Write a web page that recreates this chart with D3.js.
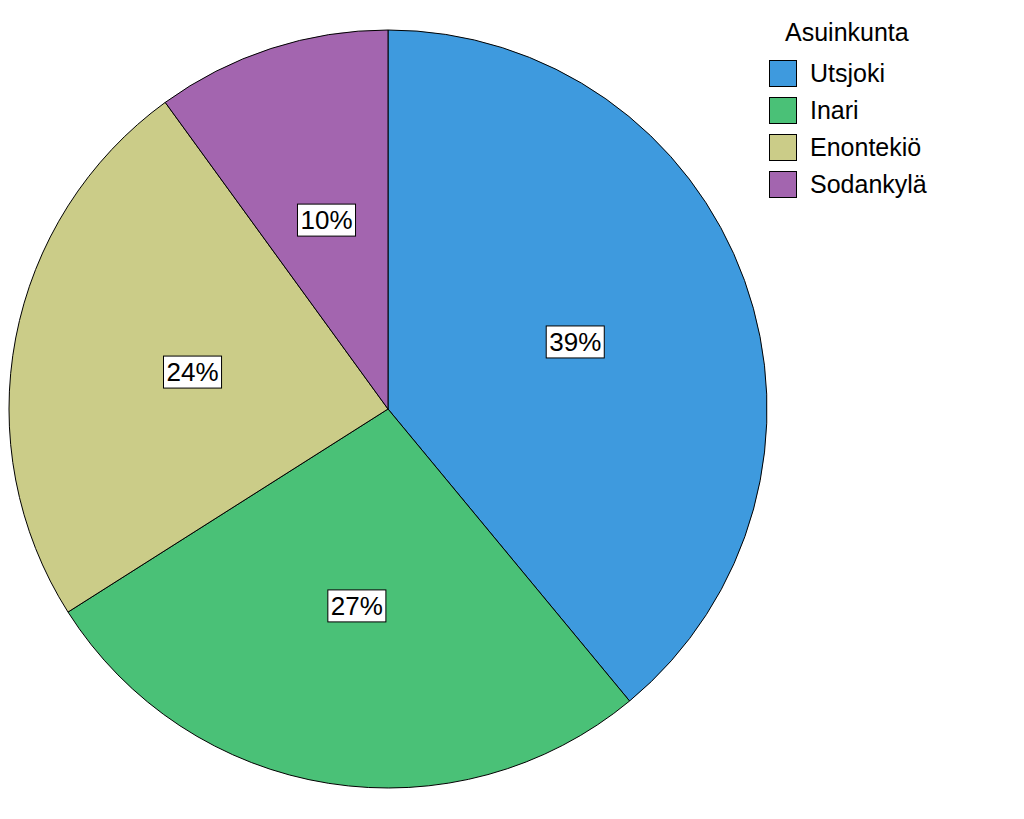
<!DOCTYPE html>
<html><head><meta charset="utf-8">
<script src="https://cdn.jsdelivr.net/npm/d3@7"></script>
<style>body{margin:0;background:#fff}</style></head>
<body><svg id="c" width="1024" height="819"></svg>
<script>
const categories = ["Utsjoki","Inari","Enontekiö","Sodankylä"];
const values = [39,27,24,10];
const colors = ["#3e9ade","#4ac177","#cbcc88","#a365af"];
const legendTitle = "Asuinkunta";

const svg = d3.select("#c");
const cx = 388, cy = 409, R = 379;
const pie = d3.pie().sort(null).value(d => d)(values);
const arc = d3.arc().innerRadius(0).outerRadius(R);
const lab = d3.arc().innerRadius(199).outerRadius(199);
const g = svg.append("g").attr("transform", `translate(${cx},${cy})`);
g.selectAll("path").data(pie).join("path")
  .attr("d", arc).attr("fill", (d,i) => colors[i])
  .attr("stroke", "#000").attr("stroke-width", 1);
const lg = g.selectAll("g.l").data(pie).join("g")
  .attr("transform", d => `translate(${lab.centroid(d)})`);
lg.append("text").text(d => d.data + "%")
  .attr("text-anchor","middle").attr("dy","0.36em")
  .style("font-family","Liberation Sans, Arial").style("font-size","26px")
  .each(function(){
    const b = this.getBBox();
    d3.select(this.parentNode).insert("rect","text")
      .attr("x", b.x-3).attr("y", b.y-1).attr("width", b.width+6).attr("height", b.height+2)
      .attr("fill","#fff").attr("stroke","#000").attr("stroke-width",1);
  });

const leg = svg.append("g").style("font-family","Liberation Sans, Arial").style("font-size","25px");
leg.append("text").attr("x",785).attr("y",41).text(legendTitle);
categories.forEach((c,i) => {
  const y = 60 + i*37;
  leg.append("rect").attr("x",769.5).attr("y",y+0.5).attr("width",27).attr("height",26)
    .attr("fill",colors[i]).attr("stroke","#000");
  leg.append("text").attr("x",810).attr("y",y+22).text(c);
});
</script></body></html>
